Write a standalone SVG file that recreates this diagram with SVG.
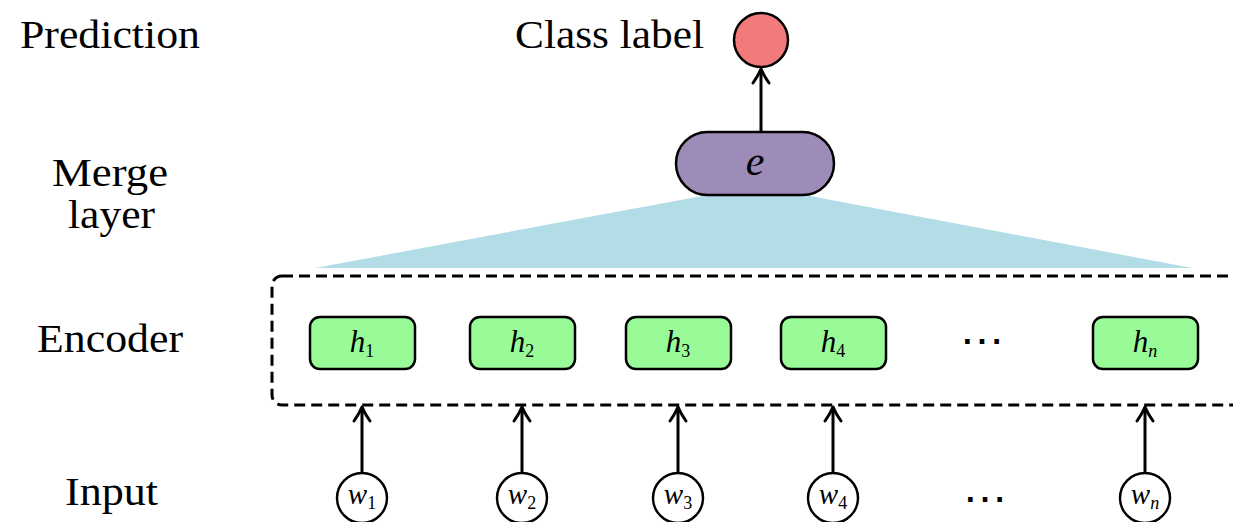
<svg xmlns="http://www.w3.org/2000/svg" width="1233" height="522" viewBox="0 0 1233 522">
  <defs>
    <marker id="arrowhead" viewBox="0 0 20 20" refX="17" refY="10" markerWidth="20" markerHeight="20" markerUnits="userSpaceOnUse" orient="auto">
      <path d="M3,2 Q10,7 17,10 Q10,13 3,18" fill="none" stroke="#000" stroke-width="3" stroke-linecap="round" stroke-linejoin="round"/>
    </marker>
    <style>
      text { font-family: "Liberation Serif", "Times New Roman", serif; }
      .label { font-size: 41px; fill: #000; }
      .math { font-style: italic; fill: #000; }
      .sub { font-style: normal; font-size: 18px; }
      .subi { font-style: italic; font-size: 18px; }
      .hbox { fill: #98FB98; stroke: #000; stroke-width: 2.5; }
      .wnode { fill: #fff; stroke: #000; stroke-width: 2.5; }
      .arrow { stroke: #000; stroke-width: 3; fill: none; marker-end: url(#arrowhead); }
      .dots { font-size: 44px; fill: #000; }
    </style>
  </defs>

  <rect width="1233" height="522" fill="#fff"/>

  <!-- row labels -->
  <g id="row-labels">
    <text class="label" x="20" y="48" textLength="180" lengthAdjust="spacingAndGlyphs">Prediction</text>
    <text class="label" x="52" y="186" font-size="36" textLength="116" lengthAdjust="spacingAndGlyphs">Merge</text>
    <text class="label" x="68" y="228" font-size="36" textLength="87" lengthAdjust="spacingAndGlyphs">layer</text>
    <text class="label" x="37" y="352" textLength="146" lengthAdjust="spacingAndGlyphs">Encoder</text>
    <text class="label" x="65" y="505" textLength="93" lengthAdjust="spacingAndGlyphs">Input</text>
  </g>

  <!-- merge fan-in -->
  <g id="merge-fan">
    <polygon points="702,196 810,196 1192,268 315,268" fill="#B2DCE6"/>
  </g>

  <!-- encoder frame -->
  <g id="encoder-frame">
    <rect x="272" y="276" width="990" height="129" rx="10" fill="none" stroke="#000" stroke-width="3" stroke-dasharray="11 6"/>
  </g>

  <!-- connectors -->
  <g id="connectors">
    <line class="arrow" x1="761" y1="132" x2="761" y2="69"/>
    <line class="arrow" x1="362" y1="473" x2="362" y2="407"/>
    <line class="arrow" x1="522" y1="473" x2="522" y2="407"/>
    <line class="arrow" x1="678" y1="473" x2="678" y2="407"/>
    <line class="arrow" x1="833" y1="473" x2="833" y2="407"/>
    <line class="arrow" x1="1145" y1="473" x2="1145" y2="407"/>
  </g>

  <!-- prediction -->
  <g id="class-label">
    <text class="label" x="515" y="48" textLength="189" lengthAdjust="spacingAndGlyphs">Class label</text>
    <circle cx="761" cy="40" r="27" fill="#F27A7A" stroke="#000" stroke-width="2.5"/>
  </g>

  <!-- merged representation -->
  <g id="merge-e">
    <rect x="676" y="132" width="158" height="63" rx="31.5" fill="#9D8BB8" stroke="#000" stroke-width="2.5"/>
    <text class="math" x="755" y="175" font-size="42" text-anchor="middle">e</text>
  </g>

  <!-- encoder states -->
  <g id="h1">
    <rect class="hbox" x="310" y="317" width="105" height="52" rx="10"/>
    <text class="math" x="362" y="352" font-size="31" text-anchor="middle">h<tspan class="sub" dy="5">1</tspan></text>
  </g>
  <g id="h2">
    <rect class="hbox" x="470" y="317" width="105" height="52" rx="10"/>
    <text class="math" x="522" y="352" font-size="31" text-anchor="middle">h<tspan class="sub" dy="5">2</tspan></text>
  </g>
  <g id="h3">
    <rect class="hbox" x="626" y="317" width="105" height="52" rx="10"/>
    <text class="math" x="678" y="352" font-size="31" text-anchor="middle">h<tspan class="sub" dy="5">3</tspan></text>
  </g>
  <g id="h4">
    <rect class="hbox" x="781" y="317" width="105" height="52" rx="10"/>
    <text class="math" x="833" y="352" font-size="31" text-anchor="middle">h<tspan class="sub" dy="5">4</tspan></text>
  </g>
  <g id="h-dots">
    <text class="dots" x="982" y="355" text-anchor="middle">⋯</text>
  </g>
  <g id="hn">
    <rect class="hbox" x="1093" y="317" width="105" height="52" rx="10"/>
    <text class="math" x="1145" y="352" font-size="31" text-anchor="middle">h<tspan class="subi" dy="5">n</tspan></text>
  </g>

  <!-- input tokens -->
  <g id="w1">
    <circle class="wnode" cx="362" cy="498" r="25"/>
    <text class="math" x="362" y="504" font-size="29" text-anchor="middle">w<tspan class="sub" dy="5">1</tspan></text>
  </g>
  <g id="w2">
    <circle class="wnode" cx="522" cy="498" r="25"/>
    <text class="math" x="522" y="504" font-size="29" text-anchor="middle">w<tspan class="sub" dy="5">2</tspan></text>
  </g>
  <g id="w3">
    <circle class="wnode" cx="678" cy="498" r="25"/>
    <text class="math" x="678" y="504" font-size="29" text-anchor="middle">w<tspan class="sub" dy="5">3</tspan></text>
  </g>
  <g id="w4">
    <circle class="wnode" cx="833" cy="498" r="25"/>
    <text class="math" x="833" y="504" font-size="29" text-anchor="middle">w<tspan class="sub" dy="5">4</tspan></text>
  </g>
  <g id="w-dots">
    <text class="dots" x="985" y="513" text-anchor="middle">⋯</text>
  </g>
  <g id="wn">
    <circle class="wnode" cx="1145" cy="498" r="25"/>
    <text class="math" x="1145" y="504" font-size="29" text-anchor="middle">w<tspan class="subi" dy="5">n</tspan></text>
  </g>
</svg>
